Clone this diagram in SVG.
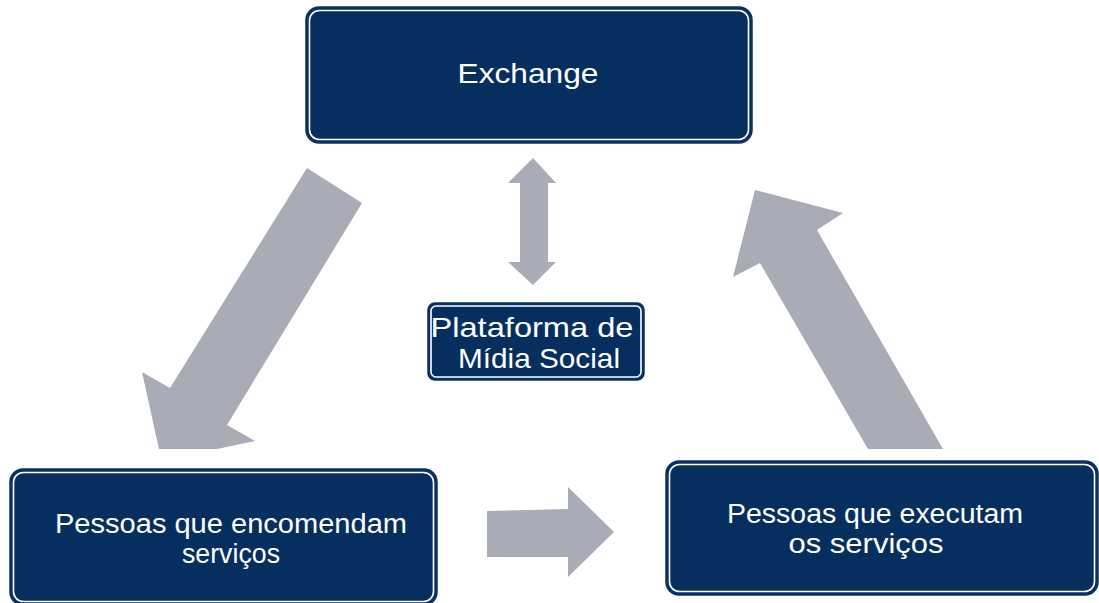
<svg xmlns="http://www.w3.org/2000/svg" width="1099" height="603" viewBox="0 0 1099 603">
  <style>
    .outer { fill: #0a3160; stroke: #0a3160; stroke-width: 1.5; }
    .inner { fill: #062f5f; stroke: #ffffff; stroke-width: 1.6; }
    .arrow { fill: #a9abb7; }
    .lbl { fill: #ffffff; font-family: "Liberation Sans", "DejaVu Sans", sans-serif; font-size: 27px; text-anchor: middle; }
  </style>
  <rect x="0" y="0" width="1099" height="603" fill="#ffffff"/>
  <g id="connectors">
    <polygon class="arrow" points="307,168 362,203 227,425 255,441 217,449 159,449 142,372 170,388"/>
    <polygon class="arrow" points="755,190 843,213 817,230 943,449 868,449 760,263 733,277"/>
    <polygon class="arrow" points="533,158 556,183 548,183 548,262 556,262 533,285 508,262 520,262 520,183 508,183"/>
    <polygon class="arrow" points="487,511 568,509 568,487 614,532 568,577 568,557 487,557"/>
  </g>
  <g id="exchange">
    <rect class="outer" x="306" y="7" width="446" height="136" rx="13"/>
    <rect class="inner" x="309.5" y="10.5" width="439" height="129" rx="10"/>
    <text class="lbl" x="528" y="83" style="font-size:28px" textLength="141" lengthAdjust="spacingAndGlyphs">Exchange</text>
  </g>
  <g id="plataforma">
    <rect class="outer" x="428" y="303" width="216" height="77" rx="7"/>
    <rect class="inner" x="431" y="306" width="210" height="71" rx="5"/>
    <text class="lbl" x="532" y="337" style="font-size:28px" textLength="203" lengthAdjust="spacingAndGlyphs">Plataforma de</text>
    <text class="lbl" x="539" y="368" style="font-size:28px" textLength="162" lengthAdjust="spacingAndGlyphs">Mídia Social</text>
  </g>
  <g id="encomendam">
    <rect class="outer" x="10" y="469" width="427" height="136" rx="13"/>
    <rect class="inner" x="13.5" y="472.5" width="420" height="129" rx="10"/>
    <text class="lbl" x="231" y="533" textLength="352" lengthAdjust="spacingAndGlyphs">Pessoas que encomendam</text>
    <text class="lbl" x="231" y="563" textLength="98" lengthAdjust="spacingAndGlyphs">serviços</text>
  </g>
  <g id="executam">
    <rect class="outer" x="666" y="461" width="432" height="134" rx="13"/>
    <rect class="inner" x="669.5" y="464.5" width="425" height="127" rx="10"/>
    <text class="lbl" x="875" y="523" textLength="296" lengthAdjust="spacingAndGlyphs">Pessoas que executam</text>
    <text class="lbl" x="866" y="553" textLength="155" lengthAdjust="spacingAndGlyphs">os serviços</text>
  </g>
</svg>
